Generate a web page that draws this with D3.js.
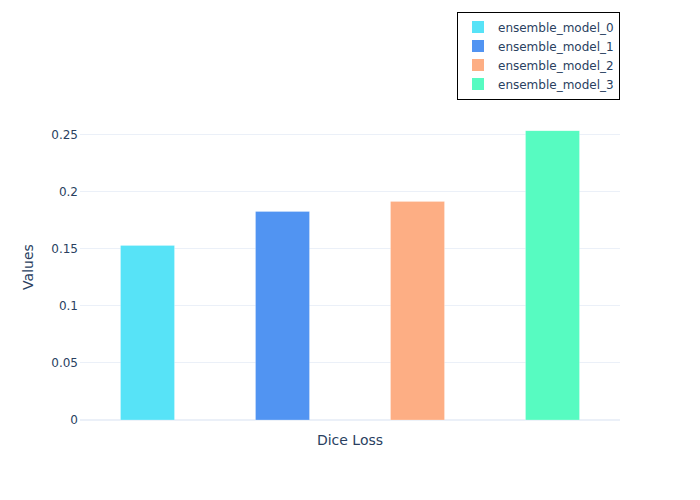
<!DOCTYPE html>
<html><head><meta charset="utf-8">
<script src="https://cdn.jsdelivr.net/npm/d3@7"></script>
<style>body{margin:0;background:#fff}svg{display:block}text{font-family:"DejaVu Sans",Verdana,sans-serif;fill:#2a3f5f}</style>
</head><body><div id="chart"></div>
<script>
const models = ["ensemble_model_0","ensemble_model_1","ensemble_model_2","ensemble_model_3"];
const values = [0.1531, 0.1829, 0.1917, 0.2537];
const colors = ["#57e3f7","#5194f2","#fdae84","#57fbc1"];
const yTicks = [0, 0.05, 0.1, 0.15, 0.2, 0.25];
const xTitle = "Dice Loss";
const yTitle = "Values";

const W = 700, H = 500;
const m = {l:80, r:80, t:100, b:80};
const svg = d3.select("#chart").append("svg").attr("width", W).attr("height", H);
const x = d3.scaleBand().domain(models).range([m.l, W - m.r]).paddingInner(0.6).paddingOuter(0.3);
const y = d3.scaleLinear().domain([0, 0.2807]).range([H - m.b, m.t]);

const g = svg.append("g");
g.selectAll("line.grid").data(yTicks.filter(d => d > 0)).join("line")
  .attr("x1", m.l).attr("x2", W - m.r)
  .attr("y1", d => Math.round(y(d)) - 0.5).attr("y2", d => Math.round(y(d)) - 0.5)
  .attr("stroke", "#ebf0f8").attr("stroke-width", 1);
g.append("line").attr("x1", m.l).attr("x2", W - m.r).attr("y1", y(0)).attr("y2", y(0))
  .attr("stroke", "#ebf0f8").attr("stroke-width", 2);

g.selectAll("rect.bar").data(values).join("rect")
  .attr("x", (d, i) => x(models[i])).attr("width", x.bandwidth())
  .attr("y", d => y(d)).attr("height", d => y(0) - y(d))
  .attr("fill", (d, i) => colors[i]).attr("stroke", "rgba(255,255,255,0.5)").attr("stroke-width", 0.5);

const yAxis = d3.axisLeft(y).tickValues(yTicks).tickFormat(d => d3.format("")(+d.toFixed(2))).tickSize(0).tickPadding(0);
const ya = svg.append("g").attr("transform", `translate(${m.l - 2},-1)`).call(yAxis);
ya.select(".domain").remove();
ya.selectAll("text").style("font-size", "12px").attr("fill", "#2a3f5f").attr("dy", "0.35em");

svg.append("text").attr("x", (m.l + W - m.r) / 2).attr("y", 445).attr("text-anchor", "middle")
  .style("font-size", "14px").text(xTitle);
svg.append("text").attr("transform", `translate(33,267) rotate(-90)`).attr("text-anchor", "middle")
  .style("font-size", "14px").text(yTitle);

const lg = svg.append("g");
lg.append("rect").attr("x", 457.5).attr("y", 12.5).attr("width", 162).attr("height", 87)
  .attr("fill", "#fff").attr("stroke", "#000").attr("stroke-width", 1);
models.forEach((name, i) => {
  const cy = 27 + i * 19;
  lg.append("rect").attr("x", 472).attr("y", cy - 6).attr("width", 12).attr("height", 12).attr("fill", colors[i]);
  lg.append("text").attr("x", 498).attr("y", cy + 1).attr("dy", "0.35em").style("font-size", "12px").text(name);
});
</script></body></html>
